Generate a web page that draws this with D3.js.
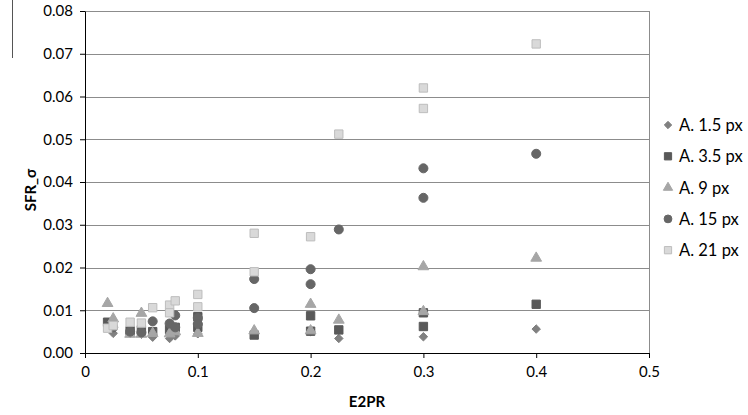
<!DOCTYPE html>
<html>
<head>
<meta charset="utf-8">
<script src="https://cdn.jsdelivr.net/npm/d3@7"></script>
<style>
  body { margin: 0; background: #fff; }
  text { font-family: Lato, "Liberation Sans", sans-serif; }
</style>
</head>
<body>
<div id="chart"></div>
<script>
const width = 748;
const height = 415;
const margin = { left: 85, right: 99, top: 11, bottom: 62 };
const plot_w = width - margin.left - margin.right;
const plot_h = height - margin.top - margin.bottom;

// data, [E2PR, SFR_sigma]
const a1_5 = [[0.025,0.0046],[0.04,0.0046],[0.05,0.0044],[0.06,0.0037],[0.075,0.0034],[0.08,0.0040],
  [0.1,0.0045],[0.15,0.0045],[0.2,0.0050],[0.225,0.0034],[0.3,0.0038],[0.4,0.0056]];
const a3_5 = [[0.02,0.0072],[0.04,0.0052],[0.05,0.0054],[0.06,0.0050],[0.075,0.0055],[0.08,0.0060],
  [0.1,0.0060],[0.1,0.0085],[0.15,0.0042],[0.2,0.0087],[0.2,0.0051],[0.225,0.0054],[0.3,0.0094],
  [0.3,0.0062],[0.4,0.0114]];
const a9 = [[0.02,0.0116],[0.025,0.0080],[0.04,0.0044],[0.05,0.0093],[0.05,0.0044],[0.06,0.0046],
  [0.075,0.0045],[0.08,0.0050],[0.1,0.0046],[0.15,0.0052],[0.2,0.0114],[0.2,0.0052],[0.225,0.0077],
  [0.3,0.0202],[0.3,0.0097],[0.4,0.0222]];
const a15 = [[0.025,0.0060],[0.04,0.0050],[0.05,0.0048],[0.06,0.0074],[0.075,0.0069],[0.08,0.0088],
  [0.08,0.0060],[0.1,0.0082],[0.1,0.0068],[0.15,0.0173],[0.15,0.0105],[0.2,0.0196],[0.2,0.0161],
  [0.225,0.0289],[0.3,0.0432],[0.3,0.0363],[0.4,0.0466]];
const a21 = [[0.02,0.0058],[0.025,0.0064],[0.04,0.0072],[0.05,0.0070],[0.06,0.0106],[0.075,0.0112],
  [0.075,0.0094],[0.08,0.0122],[0.1,0.0137],[0.1,0.0108],[0.15,0.0280],[0.15,0.0190],[0.2,0.0272],
  [0.225,0.0512],[0.3,0.0620],[0.3,0.0572],[0.4,0.0723]];

const series_names = ['A. 1.5 px', 'A. 3.5 px', 'A. 9 px', 'A. 15 px', 'A. 21 px'];
const x_ticks = [0, 0.1, 0.2, 0.3, 0.4, 0.5];
const y_ticks = [0, 0.01, 0.02, 0.03, 0.04, 0.05, 0.06, 0.07, 0.08];

// square diamond (d3's own is tall and thin)
const diamond = {
  draw(ctx, size) {
    const r = Math.sqrt(size / 2);
    ctx.moveTo(0, -r); ctx.lineTo(r, 0); ctx.lineTo(0, r); ctx.lineTo(-r, 0); ctx.closePath();
  }
};

const series = [
  { name: series_names[0], data: a1_5, symbol: diamond, size: 36, fill: '#808080', stroke: '#808080' },
  { name: series_names[1], data: a3_5, symbol: d3.symbolSquare, size: 70, fill: '#595959', stroke: '#595959' },
  { name: series_names[2], data: a9, symbol: d3.symbolTriangle, size: 50, fill: '#a6a6a6', stroke: '#a6a6a6' },
  { name: series_names[3], data: a15, symbol: d3.symbolCircle, size: 64, fill: '#666666', stroke: '#666666' },
  { name: series_names[4], data: a21, symbol: d3.symbolSquare, size: 70, fill: '#d9d9d9', stroke: '#bdbdbd' },
];

const x_scale = d3.scaleLinear().domain([0, 0.5]).range([0, plot_w]);
const y_scale = d3.scaleLinear().domain([0, 0.08]).range([plot_h, 0]);

const svg = d3.select('#chart')
  .append('svg')
    .attr('width', width)
    .attr('height', height);
svg.append('rect').attr('width', width).attr('height', height).attr('fill', '#fff');

// odd little line at the top left of the original
svg.append('line')
  .attr('x1', 12.5).attr('x2', 12.5).attr('y1', 0).attr('y2', 58)
  .attr('stroke', '#555').attr('stroke-width', 1);

const g = svg.append('g')
  .attr('transform', 'translate(' + margin.left + ',' + margin.top + ')');

// grid lines
g.selectAll('.grid')
    .data(y_ticks.slice(1))
  .join('line')
    .attr('class', 'grid')
    .attr('x1', 0).attr('x2', plot_w)
    .attr('y1', d => Math.round(y_scale(d)) + 0.5)
    .attr('y2', d => Math.round(y_scale(d)) + 0.5)
    .attr('stroke', '#8c8c8c').attr('stroke-width', 1);

g.append('line')
  .attr('x1', Math.round(plot_w) + 0.5).attr('x2', Math.round(plot_w) + 0.5)
  .attr('y1', 0).attr('y2', plot_h)
  .attr('stroke', '#8c8c8c');

const x_axis = g.append('g')
  .attr('transform', 'translate(0,' + plot_h + ')')
  .call(d3.axisBottom(x_scale).tickValues(x_ticks).tickSize(5).tickSizeOuter(0)
    .tickFormat(d => d === 0 ? '0' : d3.format('.1f')(d)));
const y_axis = g.append('g')
  .call(d3.axisLeft(y_scale).tickValues(y_ticks).tickSize(5).tickSizeOuter(0)
    .tickFormat(d3.format('.2f')));

[x_axis, y_axis].forEach(a => {
  a.select('.domain').attr('stroke', '#000');
  a.selectAll('.tick line').attr('stroke', '#000');
  a.selectAll('.tick text').attr('fill', '#000').style('font-size', '15px');
});
x_axis.selectAll('.tick text').attr('dy', '1.05em');
y_axis.selectAll('.tick text').attr('x', -12);

// points, later series on top
series.forEach(s => {
  g.append('g').selectAll('path')
      .data(s.data)
    .join('path')
      .attr('d', d3.symbol(s.symbol, s.size))
      .attr('transform', d => 'translate(' + x_scale(d[0]) + ',' + y_scale(d[1]) + ')')
      .attr('fill', s.fill)
      .attr('stroke', s.stroke)
      .attr('stroke-width', 1);
});

// axis titles
svg.append('text')
  .attr('x', margin.left + x_scale(0.25))
  .attr('y', 407)
  .attr('text-anchor', 'middle')
  .style('font-size', '15px').style('font-weight', 'bold')
  .text('E2PR');
svg.append('text')
  .attr('transform', 'translate(36,190) rotate(-90)')
  .attr('text-anchor', 'middle')
  .style('font-size', '15px').style('font-weight', 'bold')
  .text('SFR_σ');

// legend
const legend = svg.append('g')
  .selectAll('g')
    .data(series)
  .join('g')
    .attr('transform', (d, i) => 'translate(668,' + (125 + i * 31.3) + ')');
legend.append('path')
  .attr('d', d => d3.symbol(d.symbol, d.size * 0.75)())
  .attr('fill', d => d.fill)
  .attr('stroke', d => d.stroke);
legend.append('text')
  .attr('x', 11)
  .attr('dy', '0.36em')
  .style('font-size', '16.5px')
  .text(d => d.name);
</script>
</body>
</html>
